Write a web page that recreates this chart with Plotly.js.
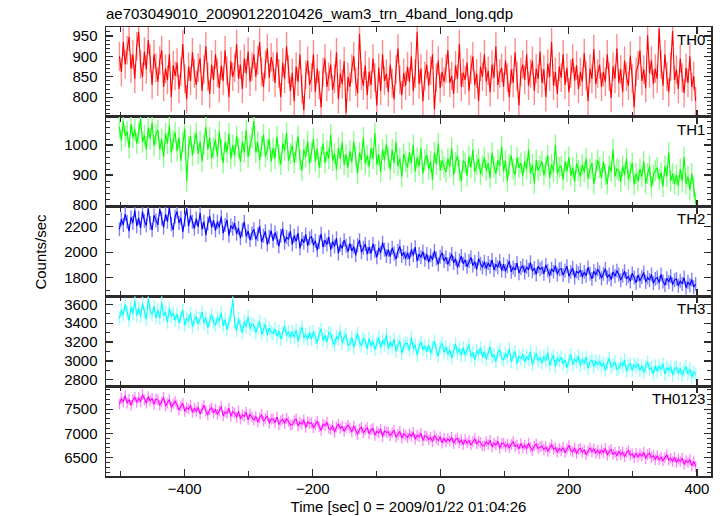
<!DOCTYPE html>
<html>
<head>
<meta charset="utf-8">
<script src="https://cdn.plot.ly/plotly-3.0.1.min.js"></script>
<style>
html,body{margin:0;padding:0;background:#fff;}
#chart{width:723px;height:516px;}
</style>
</head>
<body>
<div id="chart"></div>
<script>
// ---- data (3 s sampling) ----
const timeStart = -502;   // sec
const timeStep = 3;       // sec
const bandNames = ["TH0", "TH1", "TH2", "TH3", "TH0123"];
const bandColors = ["rgb(255,0,0)", "rgb(0,255,0)", "rgb(0,0,255)", "rgb(0,255,255)", "rgb(255,0,255)"];
const errColors = ["rgb(255,140,140)", "rgb(140,255,140)", "rgb(130,130,255)", "rgb(150,255,255)", "rgb(255,140,255)"];
const bandErrors = [35, 35, 55, 70, 110];

const th0 = [
900,862,935,880,915,948,870,905,845,925,
960,880,850,912,868,940,895,830,905,872,
838,890,915,825,870,842,905,800,878,852,
885,820,862,930,845,795,875,840,910,858,
830,872,895,815,868,925,850,808,880,842,
905,860,822,878,840,915,865,800,888,850,
872,930,845,880,820,895,858,912,838,875,
905,850,890,935,862,825,880,920,848,898,
875,835,910,858,800,885,845,925,868,815,
860,790,875,838,905,820,768,855,890,830,
848,905,812,870,830,775,862,895,825,850,
880,818,845,910,795,858,832,888,762,850,
825,870,900,838,810,955,852,828,878,805,
862,830,895,848,780,872,815,905,840,858,
812,880,835,795,868,920,842,805,860,828,
875,838,900,815,858,960,832,870,790,852,
880,828,865,905,770,848,890,822,862,838,
870,915,835,852,808,878,845,930,825,860,
842,885,815,868,900,830,858,790,875,850,
905,838,865,812,880,848,925,830,858,872,
825,890,848,800,868,835,910,852,780,862,
880,842,905,828,858,890,815,870,845,912,
835,868,800,882,850,935,828,862,808,875,
848,905,830,872,812,858,895,840,878,820,
862,838,908,852,790,870,845,918,832,858,
880,825,862,838,905,850,798,875,845,920,
835,868,812,890,850,828,902,845,775,862,
878,915,840,868,822,952,858,890,832,870,
845,968,880,828,905,850,812,875,962,842,
868,820,895,848,810,872,835,900,825,852,
790];

const th1 = [
1060,1015,1080,1030,1045,990,1070,1025,1052,1005,
1040,1088,1010,1032,985,1058,1020,1075,998,1035,
1050,985,1020,960,1038,1005,1065,975,1015,1042,
980,1025,948,1010,1055,880,995,1030,965,1008,
1040,970,1012,945,1002,1060,985,1025,955,990,
1018,962,1045,985,940,1010,975,1038,955,1000,
965,1030,990,945,1012,975,1050,960,998,1025,
1080,975,1010,950,995,1035,962,985,1020,945,
990,955,1028,968,935,1005,982,1040,948,972,
1000,940,978,1030,952,915,985,960,1012,938,
975,1020,945,988,925,960,1005,940,980,955,
1035,948,972,918,990,955,1010,935,968,925,
980,942,1012,960,905,975,950,1025,938,965,
928,990,955,1040,935,968,910,985,948,1002,
960,918,985,940,1010,930,955,895,970,945,
925,975,940,1000,912,958,930,990,905,950,
968,920,945,885,975,935,1005,915,950,928,
910,955,928,990,900,942,965,915,880,948,
940,898,962,925,985,910,935,955,902,930,
958,915,940,890,975,928,905,950,930,995,
912,948,880,935,965,920,900,958,925,940,
898,945,920,985,905,935,872,950,915,930,
945,900,928,965,890,935,912,1000,905,925,
930,885,945,912,960,898,925,878,940,915,
895,935,910,955,888,920,940,870,918,950,
925,890,945,902,870,930,912,985,895,920,
915,878,930,900,955,885,910,940,868,905,
880,920,895,945,872,905,930,860,900,915,
925,885,908,862,930,895,975,880,905,870,
900,865,920,880,960,870,895,850,905,860,
805];

const th2 = [
2180,2260,2215,2300,2240,2165,2275,2230,2330,2205,
2270,2190,2320,2245,2210,2345,2230,2175,2290,2250,
2215,2340,2265,2195,2300,2240,2355,2220,2175,2280,
2320,2230,2270,2160,2255,2345,2205,2290,2240,2185,
2265,2200,2310,2180,2240,2135,2225,2285,2195,2250,
2170,2240,2195,2280,2150,2215,2255,2130,2210,2185,
2230,2145,2190,2110,2175,2240,2125,2165,2095,2150,
2180,2100,2140,2205,2080,2130,2165,2060,2120,2170,
2090,2155,2110,2045,2130,2185,2075,2120,2100,2165,
2060,2130,2085,2150,2030,2105,2075,2140,2050,2110,
2125,2055,2090,2015,2080,2145,2040,2095,2060,2120,
2020,2085,2045,2110,1990,2060,2030,2095,2050,2005,
2070,2010,2045,1975,2055,2095,2000,2035,2065,1985,
2040,1990,2065,2010,1960,2035,1995,2075,2020,1970,
2020,1965,2035,1990,1945,2010,2045,1970,2000,1950,
1995,1945,2020,1975,2040,1930,1985,1960,2005,1940,
1985,1920,1975,1940,2010,1950,1905,1965,1995,1930,
1960,1905,1945,1985,1915,1950,1880,1935,1970,1910,
1940,1885,1930,1960,1895,1925,1865,1950,1910,1880,
1925,1870,1915,1885,1940,1860,1905,1880,1930,1855,
1905,1850,1890,1930,1845,1880,1860,1915,1835,1875,
1895,1840,1885,1860,1920,1850,1875,1825,1890,1865,
1880,1830,1900,1855,1815,1870,1845,1895,1825,1865,
1870,1820,1855,1890,1810,1845,1875,1800,1850,1835,
1860,1805,1845,1815,1880,1830,1790,1850,1820,1865,
1840,1795,1830,1870,1800,1825,1785,1845,1810,1855,
1825,1780,1815,1850,1790,1810,1770,1835,1800,1760,
1820,1775,1805,1840,1765,1800,1780,1825,1755,1790,
1800,1760,1825,1770,1740,1795,1765,1810,1745,1780,
1790,1735,1775,1750,1800,1720,1765,1740,1785,1725,
1750];

const th3 = [
3450,3540,3490,3600,3520,3430,3570,3500,3640,3480,
3560,3470,3610,3510,3440,3660,3530,3490,3580,3455,
3540,3450,3620,3480,3520,3410,3560,3470,3505,3430,
3500,3400,3470,3540,3380,3450,3420,3510,3360,3440,
3470,3390,3450,3520,3400,3460,3350,3430,3490,3410,
3380,3460,3420,3510,3370,3440,3330,3420,3480,3650,
3400,3320,3450,3370,3300,3420,3360,3470,3340,3390,
3380,3300,3360,3420,3280,3340,3390,3270,3350,3310,
3290,3340,3260,3320,3230,3300,3370,3270,3310,3250,
3310,3250,3330,3210,3290,3360,3240,3280,3230,3300,
3230,3310,3250,3190,3290,3340,3220,3270,3200,3300,
3290,3210,3170,3260,3230,3320,3190,3250,3280,3160,
3180,3250,3140,3230,3290,3200,3160,3240,3210,3130,
3240,3160,3210,3120,3190,3250,3140,3220,3170,3280,
3130,3200,3150,3230,3100,3170,3210,3080,3160,3190,
3180,3110,3250,3130,3170,3060,3150,3200,3120,3160,
3100,3170,3080,3140,3210,3110,3050,3150,3190,3090,
3150,3070,3120,3030,3110,3180,3080,3130,3060,3140,
3060,3120,3170,3050,3090,3010,3110,3070,3140,3040,
3100,3020,3080,3150,3040,3070,2990,3090,3120,3030,
3010,3080,3040,3130,2990,3060,3100,2970,3050,3020,
3070,2990,3050,3010,3100,2960,3030,3080,3000,3040,
2980,3050,3000,3090,2950,3020,3060,2940,3030,3000,
3040,2970,3010,2930,3000,3070,2960,3020,2990,3050,
2950,3020,2970,3040,2920,2990,3010,2940,3000,2960,
3000,2940,2980,2900,2970,3030,2930,2960,2990,2910,
2920,2980,2940,3010,2890,2950,2970,2900,2960,2930,
2970,2900,2950,2880,2940,2990,2910,2930,2860,2950,
2890,2950,2910,2970,2860,2930,2900,2940,2850,2920,
2930,2870,2920,2850,2900,2940,2860,2910,2830,2880,
2860];

const th0123 = [
7600,7720,7650,7780,7620,7700,7580,7690,7750,7640,
7730,7650,7800,7690,7620,7760,7670,7720,7600,7710,
7690,7580,7650,7740,7560,7620,7700,7540,7610,7660,
7590,7480,7560,7620,7450,7530,7500,7580,7430,7520,
7450,7540,7400,7510,7580,7460,7380,7490,7530,7420,
7500,7390,7460,7550,7360,7440,7410,7520,7350,7450,
7420,7330,7460,7300,7380,7350,7440,7280,7400,7340,
7270,7350,7230,7320,7390,7250,7300,7360,7210,7290,
7300,7220,7340,7180,7260,7290,7200,7310,7240,7170,
7180,7260,7300,7150,7230,7190,7280,7120,7240,7200,
7220,7110,7180,7250,7140,7060,7190,7160,7230,7100,
7080,7160,7020,7130,7190,7100,7150,7040,7120,7170,
7110,7030,7150,7060,6980,7090,7130,7010,7070,7120,
6990,7070,7100,6960,7040,7010,7090,6930,7050,7020,
7030,6950,7010,7060,6920,6980,7040,6900,6990,6960,
6910,6990,6940,7020,6880,6960,6930,7000,6850,6950,
6940,6870,6920,6830,6960,6890,6850,6930,6800,6900,
6820,6890,6840,6920,6790,6870,6900,6810,6860,6770,
6870,6800,6850,6760,6830,6890,6780,6840,6810,6740,
6750,6830,6770,6860,6720,6800,6760,6840,6690,6790,
6800,6720,6780,6700,6770,6830,6730,6760,6680,6790,
6700,6760,6680,6800,6710,6650,6740,6780,6690,6720,
6740,6660,6720,6630,6700,6770,6670,6710,6610,6690,
6640,6710,6600,6680,6750,6650,6620,6700,6580,6670,
6690,6610,6660,6560,6640,6700,6620,6680,6590,6650,
6580,6660,6600,6690,6550,6630,6670,6570,6610,6540,
6630,6560,6610,6520,6600,6650,6550,6580,6500,6590,
6510,6580,6530,6610,6480,6560,6590,6500,6540,6460,
6540,6460,6510,6430,6500,6560,6450,6490,6420,6510,
6400,6470,6420,6490,6360,6440,6400,6460,6330,6420,
6320];

const yRanges = [[752, 972], [795, 1094], [1652, 2359], [2732, 3684], [6121, 7972]];
const yDticks = [50, 100, 200, 200, 500];
const yMinor = [10, 20, 100, 100, 100];
const xTickVals = [-400, -200, 0, 200, 400];

// ---- build ----
const series = [th0, th1, th2, th3, th0123];
const times = th0.map((_, i) => timeStart + i * timeStep);

const traces = series.map((vals, k) => ({
  type: 'scatter',
  mode: 'lines',
  x: times,
  y: vals,
  xaxis: k === 0 ? 'x' : 'x' + (k + 1),
  yaxis: k === 0 ? 'y' : 'y' + (k + 1),
  line: {color: bandColors[k], width: 1.1},
  error_y: {type: 'constant', value: bandErrors[k], color: errColors[k], thickness: 1.4, width: 0},
  hoverinfo: 'skip',
  showlegend: false
}));

const FONT = 'Liberation Sans, Arial, Helvetica, sans-serif';
const AXCOL = '#2b2b2b';
const layout = {
  width: 723, height: 516,
  margin: {l: 106, r: 12, t: 27, b: 40},
  paper_bgcolor: '#ffffff', plot_bgcolor: '#ffffff',
  font: {family: FONT, size: 15, color: '#000'},
  showlegend: false,
  annotations: []
};

const nP = 5;
const h = 1 / nP;
for (let k = 0; k < nP; k++) {
  const dom = [1 - (k + 1) * h, 1 - k * h];
  const xn = k === 0 ? 'xaxis' : 'xaxis' + (k + 1);
  const yn = k === 0 ? 'yaxis' : 'yaxis' + (k + 1);
  const yid = k === 0 ? 'y' : 'y' + (k + 1);
  const xid = k === 0 ? 'x' : 'x' + (k + 1);
  layout[xn] = {
    anchor: yid,
    range: [-523, 422],
    tickvals: xTickVals,
    ticks: 'inside', ticklen: 7, tickwidth: 1.2, tickcolor: AXCOL,
    minor: {dtick: 100, tick0: 0, ticks: 'inside', ticklen: 5, tickwidth: 1, tickcolor: AXCOL},
    showline: true, linecolor: AXCOL, linewidth: 1.5, mirror: 'ticks',
    showgrid: false, zeroline: false,
    showticklabels: k === nP - 1,
    ticklabelstandoff: -2,
    tickfont: {size: 15, family: FONT, color: '#000'}
  };
  if (k > 0) layout[xn].matches = 'x';
  layout[yn] = {
    domain: dom,
    anchor: xid,
    range: yRanges[k],
    dtick: yDticks[k], tick0: 0,
    ticks: 'inside', ticklen: 7, tickwidth: 1.2, tickcolor: AXCOL,
    minor: {dtick: yMinor[k], tick0: 0, ticks: 'inside', ticklen: 4, tickwidth: 1, tickcolor: AXCOL},
    showline: true, linecolor: AXCOL, linewidth: 1.5, mirror: 'ticks',
    showgrid: false, zeroline: false,
    ticklabelstandoff: 4,
    tickfont: {size: 15, family: FONT, color: '#000'}
  };
  layout.annotations.push({
    xref: 'paper', yref: 'paper', x: 0.993, y: dom[1] - 0.004,
    xanchor: 'right', yanchor: 'top', showarrow: false,
    text: bandNames[k], font: {size: 15, family: FONT, color: '#000'}
  });
}
layout.xaxis5.title = {text: 'Time [sec] 0 = 2009/01/22 01:04:26', font: {size: 15, family: FONT, color: '#000'}, standoff: 6};
layout.annotations.push({
  xref: 'paper', yref: 'paper', x: -0.109, y: 0.5, textangle: -90,
  xanchor: 'center', yanchor: 'middle', showarrow: false,
  text: 'Counts/sec', font: {size: 15, family: FONT, color: '#000'}
});
layout.title = {
  text: 'ae703049010_20090122010426_wam3_trn_4band_long.qdp',
  x: 0, xanchor: 'left', xref: 'paper', y: 1 - 14 / 516, yanchor: 'middle', yref: 'container',
  font: {size: 15, family: FONT, color: '#000'}
};

Plotly.newPlot('chart', traces, layout, {staticPlot: true, displayModeBar: false});
</script>
</body>
</html>
